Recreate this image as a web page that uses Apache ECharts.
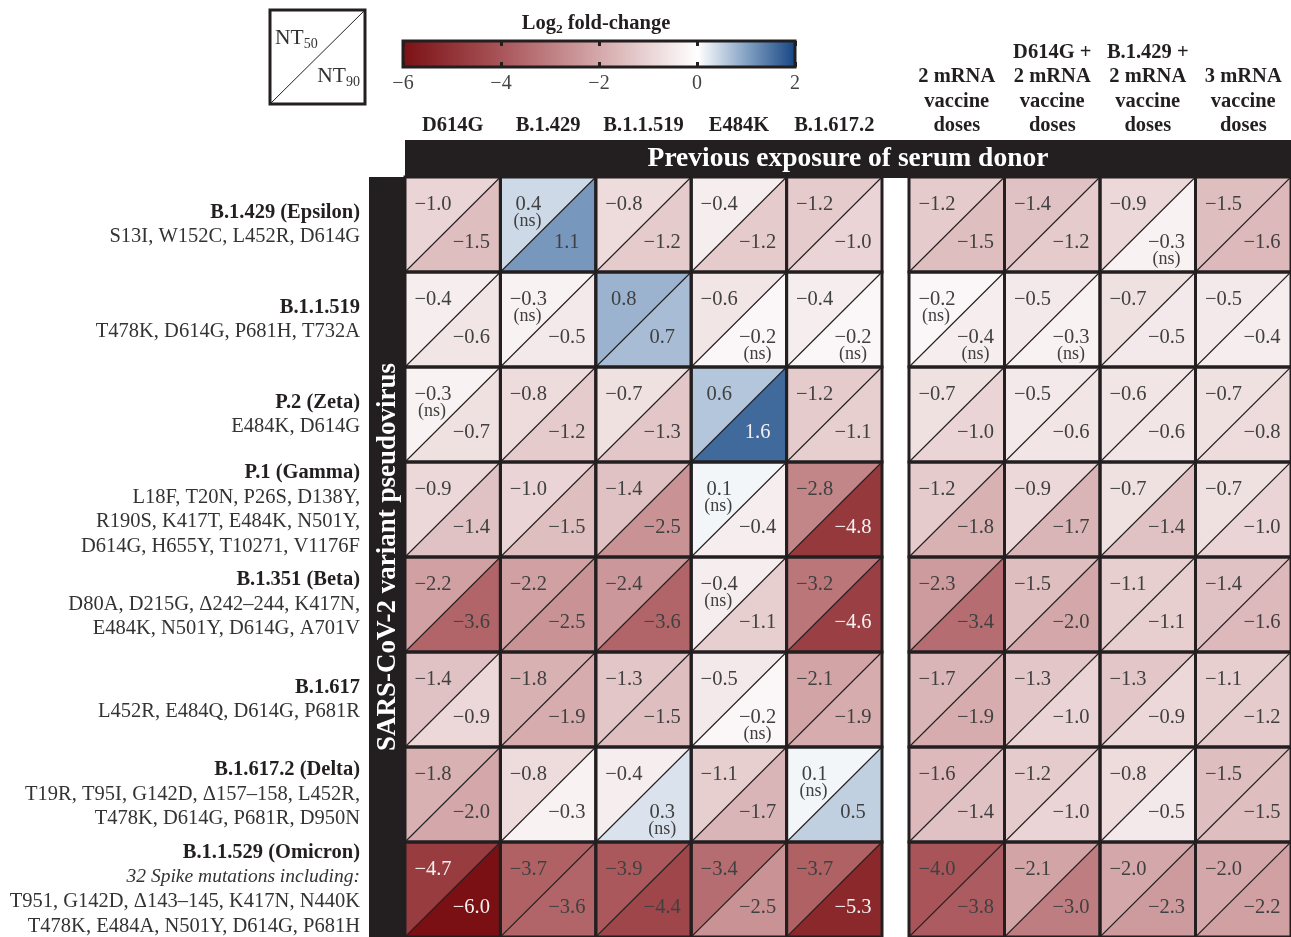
<!DOCTYPE html>
<html><head><meta charset="utf-8">
<script src="https://cdn.jsdelivr.net/npm/echarts@6/dist/echarts.min.js"></script>
<style>html,body{margin:0;padding:0;background:#fff}#c{width:1291px;height:937px}</style>
</head><body><div id="c"></div>
<script>
// ---------- data ----------
const pseudoCols = ['D614G', 'B.1.429', 'B.1.1.519', 'E484K', 'B.1.617.2'];
const vaccineCols = ['2 mRNA\nvaccine\ndoses', 'D614G +\n2 mRNA\nvaccine\ndoses', 'B.1.429 +\n2 mRNA\nvaccine\ndoses', '3 mRNA\nvaccine\ndoses'];
const variantNames = ['B.1.429 (Epsilon)', 'B.1.1.519', 'P.2 (Zeta)', 'P.1 (Gamma)', 'B.1.351 (Beta)', 'B.1.617', 'B.1.617.2 (Delta)', 'B.1.1.529 (Omicron)'];
const variantNotes = ['', '', '', '', '', '', '', '32 Spike mutations including:'];
const variantMutations = [
  ['S13I, W152C, L452R, D614G'],
  ['T478K, D614G, P681H, T732A'],
  ['E484K, D614G'],
  ['L18F, T20N, P26S, D138Y,', 'R190S, K417T, E484K, N501Y,', 'D614G, H655Y, T10271, V1176F'],
  ['D80A, D215G, \u0394242\u2013244, K417N,', 'E484K, N501Y, D614G, A701V'],
  ['L452R, E484Q, D614G, P681R'],
  ['T19R, T95I, G142D, \u0394157\u2013158, L452R,', 'T478K, D614G, P681R, D950N'],
  ['T951, G142D, \u0394143\u2013145, K417N, N440K', 'T478K, E484A, N501Y, D614G, P681H']
];
// columns 0-4: pseudovirus exposure, 5-8: vaccine groups
const nt50 = [
  [-1.0, 0.4, -0.8, -0.4, -1.2, -1.2, -1.4, -0.9, -1.5],
  [-0.4, -0.3, 0.8, -0.6, -0.4, -0.2, -0.5, -0.7, -0.5],
  [-0.3, -0.8, -0.7, 0.6, -1.2, -0.7, -0.5, -0.6, -0.7],
  [-0.9, -1.0, -1.4, 0.1, -2.8, -1.2, -0.9, -0.7, -0.7],
  [-2.2, -2.2, -2.4, -0.4, -3.2, -2.3, -1.5, -1.1, -1.4],
  [-1.4, -1.8, -1.3, -0.5, -2.1, -1.7, -1.3, -1.3, -1.1],
  [-1.8, -0.8, -0.4, -1.1, 0.1, -1.6, -1.2, -0.8, -1.5],
  [-4.7, -3.7, -3.9, -3.4, -3.7, -4.0, -2.1, -2.0, -2.0]
];
const nt90 = [
  [-1.5, 1.1, -1.2, -1.2, -1.0, -1.5, -1.2, -0.3, -1.6],
  [-0.6, -0.5, 0.7, -0.2, -0.2, -0.4, -0.3, -0.5, -0.4],
  [-0.7, -1.2, -1.3, 1.6, -1.1, -1.0, -0.6, -0.6, -0.8],
  [-1.4, -1.5, -2.5, -0.4, -4.8, -1.8, -1.7, -1.4, -1.0],
  [-3.6, -2.5, -3.6, -1.1, -4.6, -3.4, -2.0, -1.1, -1.6],
  [-0.9, -1.9, -1.5, -0.2, -1.9, -1.9, -1.0, -0.9, -1.2],
  [-2.0, -0.3, 0.3, -1.7, 0.5, -1.4, -1.0, -0.5, -1.5],
  [-6.0, -3.6, -4.4, -2.5, -5.3, -3.8, -3.0, -2.3, -2.2]
];
// [row, col] of non-significant values
const ns50 = [[0, 1], [1, 1], [1, 5], [2, 0], [3, 3], [4, 3], [6, 4]];
const ns90 = [[0, 7], [1, 3], [1, 4], [1, 5], [1, 6], [5, 3], [6, 2]];
const colorbarRange = [-6, 2];

// ---------- style ----------
const SERIF = '"Liberation Serif", "DejaVu Serif", serif';
const INK = '#231f20';
const cmapStops = [-6, -4, -2, 0, 1, 2];
const cmapColors = [[122, 16, 20], [168, 84, 88], [212, 168, 170], [255, 255, 255], [130, 160, 195], [20, 68, 130]];
function colorOf(v) {
  if (v <= cmapStops[0]) return 'rgb(' + cmapColors[0].join(',') + ')';
  for (let i = 1; i < cmapStops.length; i++) {
    if (v <= cmapStops[i]) {
      const t = (v - cmapStops[i - 1]) / (cmapStops[i] - cmapStops[i - 1]);
      const a = cmapColors[i - 1], b = cmapColors[i];
      return 'rgb(' + [0, 1, 2].map(k => Math.round(a[k] + (b[k] - a[k]) * t)).join(',') + ')';
    }
  }
  return 'rgb(' + cmapColors[cmapColors.length - 1].join(',') + ')';
}
function fmt(v) { return v < 0 ? '\u2212' + Math.abs(v).toFixed(1) : v.toFixed(1); }
function textCol(v) { return (v <= -4.5 || v >= 1.5) ? '#f6f1f1' : '#404040'; }
const isNs = (list, r, c) => list.some(p => p[0] === r && p[1] === c) ? 1 : 0;

function buildData(c0, c1) {
  const out = [];
  for (let r = 0; r < nt50.length; r++)
    for (let c = c0; c < c1; c++)
      out.push([c - c0, r, nt50[r][c], nt90[r][c], isNs(ns50, r, c), isNs(ns90, r, c)]);
  return out;
}
const pseudoData = buildData(0, 5);
const vaccineData = buildData(5, 9);

function cellItem(params, api) {
  const c = api.value(0), r = api.value(1);
  const v50 = api.value(2), v90 = api.value(3), n50 = api.value(4), n90 = api.value(5);
  const p = api.coord([c, r]); const s = api.size([1, 1]);
  const w = s[0], h = s[1]; const x0 = p[0] - w / 2, y0 = p[1] - h / 2;
  const ch = [
    { type: 'polygon', shape: { points: [[x0, y0], [x0 + w, y0], [x0, y0 + h]] }, style: { fill: colorOf(v50) } },
    { type: 'polygon', shape: { points: [[x0 + w, y0], [x0 + w, y0 + h], [x0, y0 + h]] }, style: { fill: colorOf(v90) } },
    { type: 'line', shape: { x1: x0, y1: y0 + h, x2: x0 + w, y2: y0 }, style: { stroke: INK, lineWidth: 1.1 } },
    { type: 'text', x: x0 + 28, y: y0 + 28, style: { text: fmt(v50), fill: textCol(v50), fontSize: 20.5, fontFamily: SERIF, align: 'center', verticalAlign: 'middle' } },
    { type: 'text', x: x0 + w - 29, y: y0 + h - 29, style: { text: fmt(v90), fill: textCol(v90), fontSize: 20.5, fontFamily: SERIF, align: 'center', verticalAlign: 'middle' } }
  ];
  if (n50) ch.push({ type: 'text', x: x0 + 27, y: y0 + 44, style: { text: '(ns)', fill: textCol(v50), fontSize: 18, fontFamily: SERIF, align: 'center', verticalAlign: 'middle' } });
  if (n90) ch.push({ type: 'text', x: x0 + w - 29, y: y0 + h - 13, style: { text: '(ns)', fill: textCol(v90), fontSize: 18, fontFamily: SERIF, align: 'center', verticalAlign: 'middle' } });
  return { type: 'group', children: ch };
}
function borderItem(params, api) {
  const p = api.coord([api.value(0), api.value(1)]); const s = api.size([1, 1]);
  return { type: 'rect', shape: { x: p[0] - s[0] / 2, y: p[1] - s[1] / 2, width: s[0], height: s[1] }, style: { fill: 'none', stroke: INK, lineWidth: 3 } };
}
function colorbarItem(params, api) {
  const p0 = api.coord([api.value(0), 0]);
  const p1 = api.coord([api.value(1), 1]);
  const lo = colorbarRange[0], span = colorbarRange[1] - colorbarRange[0];
  const stops = cmapStops.map(v => ({ offset: (v - lo) / span, color: colorOf(v) }));
  return {
    type: 'rect',
    shape: { x: p0[0], y: p1[1], width: p1[0] - p0[0], height: p0[1] - p1[1] },
    style: { fill: new echarts.graphic.LinearGradient(0, 0, 1, 0, stops), stroke: INK, lineWidth: 3 }
  };
}

const rowLabel = (value, idx) => {
  const lines = ['{b|' + variantNames[idx] + '}'];
  if (variantNotes[idx]) lines.push('{i|' + variantNotes[idx] + '}');
  variantMutations[idx].forEach(m => lines.push('{m|' + m + '}'));
  return lines.join('\n');
};

const chart = echarts.init(document.getElementById('c'), null, { renderer: 'canvas' });
const catAxisBase = { type: 'category', axisLine: { show: false }, axisTick: { show: false }, splitLine: { show: false } };
chart.setOption({
  animation: false,
  backgroundColor: '#ffffff',
  grid: [
    { left: 405, top: 177, width: 477, height: 760 },
    { left: 909, top: 177, width: 382, height: 760 },
    { left: 403, top: 41, width: 392, height: 26 }
  ],
  xAxis: [
    Object.assign({}, catAxisBase, { gridIndex: 0, position: 'top', data: pseudoCols,
      axisLabel: { interval: 0, margin: 41, fontSize: 20.5, fontWeight: 'bold', fontFamily: SERIF, color: INK } }),
    Object.assign({}, catAxisBase, { gridIndex: 1, position: 'top', data: vaccineCols,
      axisLabel: { interval: 0, margin: 39, fontSize: 20.5, fontWeight: 'bold', fontFamily: SERIF, color: INK, lineHeight: 24.5, align: 'center' } }),
    { type: 'value', gridIndex: 2, position: 'bottom', min: colorbarRange[0], max: colorbarRange[1], interval: 2, z: 10,
      axisLine: { show: false }, splitLine: { show: false },
      axisTick: { show: true, inside: true, length: 5, lineStyle: { color: INK, width: 3 } },
      axisLabel: { margin: 7, fontSize: 20, fontFamily: SERIF, color: '#444', formatter: v => v < 0 ? '\u2212' + Math.abs(v) : String(v) } },
    { type: 'value', gridIndex: 2, position: 'top', min: colorbarRange[0], max: colorbarRange[1], interval: 2, z: 10,
      axisLine: { show: false }, splitLine: { show: false }, axisLabel: { show: false },
      axisTick: { show: true, inside: true, length: 5, lineStyle: { color: INK, width: 3 } } }
  ],
  yAxis: [
    Object.assign({}, catAxisBase, { gridIndex: 0, inverse: true, data: variantNames,
      axisLabel: { interval: 0, margin: 45, align: 'right', formatter: rowLabel,
        rich: {
          b: { fontSize: 20.5, fontWeight: 'bold', fontFamily: SERIF, color: INK, lineHeight: 24.5, align: 'right' },
          m: { fontSize: 20.5, fontFamily: SERIF, color: '#333', lineHeight: 24.5, align: 'right' },
          i: { fontSize: 19.5, fontStyle: 'italic', fontFamily: SERIF, color: '#333', lineHeight: 24.5, align: 'right' }
        } } }),
    Object.assign({}, catAxisBase, { gridIndex: 1, inverse: true, data: variantNames, axisLabel: { show: false } }),
    { type: 'value', gridIndex: 2, min: 0, max: 1, show: false }
  ],
  series: [
    { type: 'custom', xAxisIndex: 0, yAxisIndex: 0, data: pseudoData, renderItem: cellItem, encode: { x: 0, y: 1 }, silent: true, z: 2 },
    { type: 'custom', xAxisIndex: 1, yAxisIndex: 1, data: vaccineData, renderItem: cellItem, encode: { x: 0, y: 1 }, silent: true, z: 2 },
    { type: 'custom', xAxisIndex: 0, yAxisIndex: 0, data: pseudoData, renderItem: borderItem, encode: { x: 0, y: 1 }, silent: true, z: 3 },
    { type: 'custom', xAxisIndex: 1, yAxisIndex: 1, data: vaccineData, renderItem: borderItem, encode: { x: 0, y: 1 }, silent: true, z: 3 },
    { type: 'custom', xAxisIndex: 2, yAxisIndex: 2, data: [[colorbarRange[0], colorbarRange[1]]], renderItem: colorbarItem, encode: { x: [0, 1] }, silent: true, z: 2 }
  ],
  graphic: [
    { type: 'rect', left: 405, top: 140, shape: { width: 886, height: 38 }, style: { fill: INK }, z: 1 },
    { type: 'text', x: 848, y: 159, style: { text: 'Previous exposure of serum donor', fill: '#fff', fontSize: 27.5, fontWeight: 'bold', fontFamily: SERIF, align: 'center', verticalAlign: 'middle' }, z: 5 },
    { type: 'rect', left: 369, top: 177, shape: { width: 37, height: 760 }, style: { fill: INK }, z: 1 },
    { type: 'text', x: 388, y: 557, rotation: Math.PI / 2, style: { text: 'SARS-CoV-2 variant pseudovirus', fill: '#fff', fontSize: 27, fontWeight: 'bold', fontFamily: SERIF, align: 'center', verticalAlign: 'middle' }, z: 5 },
    { type: 'rect', shape: { x: 270, y: 10, width: 95, height: 94 }, style: { fill: '#fff', stroke: INK, lineWidth: 3 }, z: 1 },
    { type: 'line', shape: { x1: 270, y1: 104, x2: 365, y2: 10 }, style: { stroke: INK, lineWidth: 1 }, z: 2 },
    { type: 'text', x: 275, y: 38, style: { text: '{a|NT}{s|50}', align: 'left', verticalAlign: 'middle',
        rich: { a: { fontSize: 21.5, fontFamily: SERIF, fill: '#333', lineHeight: 27 }, s: { fontSize: 14, fontFamily: SERIF, fill: '#333', lineHeight: 27, verticalAlign: 'bottom' } } }, z: 3 },
    { type: 'text', x: 360, y: 76, style: { text: '{a|NT}{s|90}', align: 'right', verticalAlign: 'middle',
        rich: { a: { fontSize: 21.5, fontFamily: SERIF, fill: '#333', lineHeight: 27 }, s: { fontSize: 14, fontFamily: SERIF, fill: '#333', lineHeight: 27, verticalAlign: 'bottom' } } }, z: 3 },
    { type: 'text', x: 596, y: 24, style: { text: '{a|Log}{s|2}{a| fold-change}', align: 'center', verticalAlign: 'middle',
        rich: { a: { fontSize: 20.5, fontWeight: 'bold', fontFamily: SERIF, fill: INK, lineHeight: 26 }, s: { fontSize: 13.5, fontWeight: 'bold', fontFamily: SERIF, fill: INK, lineHeight: 26, verticalAlign: 'bottom' } } }, z: 3 }
  ]
});
</script></body></html>
